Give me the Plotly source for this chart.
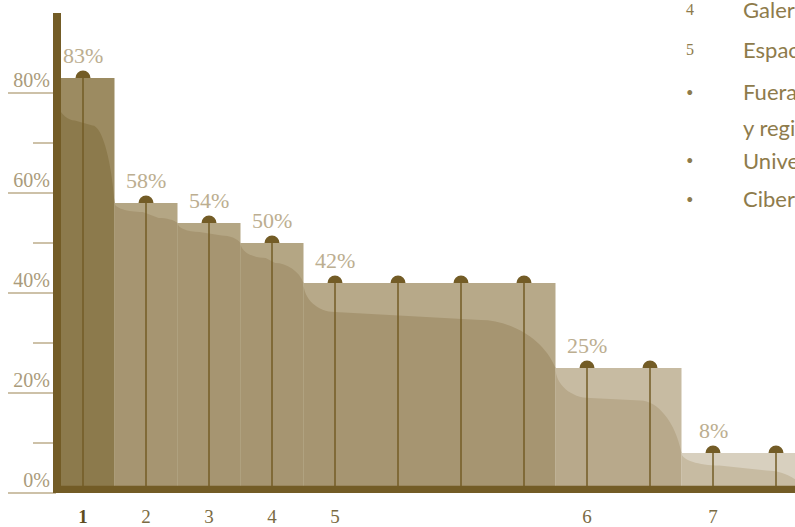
import plotly.graph_objects as go

# ---- data -------------------------------------------------------------
ranks = ["1", "2", "3", "4", "5", "6", "7"]
shares = [83, 58, 54, 50, 42, 25, 8]            # % per rank (top of each block)
items_per_rank = [1, 1, 1, 1, 4, 2, 2]          # number of stems in each block
inner_start = [74.5, 56.2, 52.2, 47.0, 36.2, 19.0, 5.5]   # inner band level, left side
inner_end = [73.5, 55.0, 51.5, 46.0, 34.6, 18.5, 4.5]     # inner band level, right side
y_ticks = [0, 20, 40, 60, 80]
y_tick_text = ["0%", "20%", "40%", "60%", "80%"]
y_minor = [10, 30, 50, 70]

legend_marks = ["4", "5", "•", "", "•", "•"]
legend_lines = ["Galerías", "Espacios alternativos", "Fuera de Santiago", "y regiones",
                "Universidades", "Ciberespacio"]

# ---- styles -----------------------------------------------------------
BROWN = "#735C26"
light_fill = ["#9C8B61", "#B4A684", "#B4A684", "#B4A684", "#B7A989", "#C7BBA2", "#D8D0BF"]
dark_fill = ["#8C7A4C", "#A69571", "#A69571", "#A69571", "#A69571", "#B8A98B", "#C7BBA2"]
foot_w = [0.37, 0.45, 0.35, 0.40, 0.50, 0.55, 0.60]       # width of the inner band's drop-in
shoulder_w = [0.35, 0.30, 0.30, 0.45, 1.19, 0.65, 0.65]   # width of the inner band's drop-out
SERIF = "Liberation Serif"
SANS = "Lato"

W, H = 795, 527
ML, MR, MT, MB = 57, 0, 13, 34
plot_w = W - ML - MR
plot_h = H - MT - MB

fig = go.Figure()
shapes = []

# block extents along the x axis (one unit per stem)
edges = [0.5]
for n in items_per_rank:
    edges.append(edges[-1] + n)

stem_x, stem_y = [], []
first_stem = []
for i, v in enumerate(shares):
    a, b = edges[i], edges[i + 1]
    xs = list(range(int(a + 0.5), int(b + 0.5)))
    first_stem.append(xs[0])
    for x in xs:
        stem_x += [x, x, None]
        stem_y += [v, 0, None]
        # round cap; its lower half is covered by the block drawn next
        shapes.append(dict(type="circle", xref="x", yref="y", xsizemode="pixel",
                           ysizemode="pixel", xanchor=x, yanchor=v,
                           x0=-7.5, x1=7.5, y0=-7.5, y1=7.5,
                           fillcolor=BROWN, line=dict(width=0), layer="below"))

for i, v in enumerate(shares):
    a, b = edges[i], edges[i + 1]
    shapes.append(dict(type="rect", xref="x", yref="y", x0=a, x1=b, y0=0, y1=v,
                       fillcolor=light_fill[i], line=dict(width=0), layer="below"))
    # inner band: drops from the block top, runs along, then falls to the next block
    T, S, E = v, inner_start[i], inner_end[i]
    N = shares[i + 1] if i + 1 < len(shares) else 0
    f, s = foot_w[i], shoulder_w[i]
    k = 0.55
    path = (f"M {a},0 L {a},{T} "
            f"C {a},{T - k * (T - S)} {a + f - k * f},{S} {a + f},{S} "
            f"L {b - s},{E} "
            f"C {b - s + 0.4 * s},{E} {b - 0.15 * s},{E - 0.4 * (E - N)} {b},{N} "
            f"L {b},0 Z")
    shapes.append(dict(type="path", xref="x", yref="y", path=path,
                       fillcolor=dark_fill[i], line=dict(width=0), layer="below"))

# axis bars
shapes.append(dict(type="rect", xref="paper", yref="y", x0=-4 / plot_w, x1=1,
                   y0=0, y1=1.45, fillcolor=BROWN, line=dict(width=0), layer="above"))
shapes.append(dict(type="rect", xref="paper", yref="paper", x0=-4 / plot_w, x1=4 / plot_w,
                   y0=0, y1=1, fillcolor=BROWN, line=dict(width=0), layer="above"))

fig.add_trace(go.Scatter(x=stem_x, y=stem_y, mode="lines",
                         line=dict(color=BROWN, width=1.5), hoverinfo="skip",
                         showlegend=False))

annotations = []
for i, v in enumerate(shares):
    annotations.append(dict(x=first_stem[i], y=v, xref="x", yref="y", text=f"{v}%",
                            showarrow=False, yshift=23, yanchor="middle",
                            font=dict(family=SERIF, size=22, color="#BCAE90")))

# side list (runs off the right edge)
legend_rows_px = [10, 50, 92, 127, 160, 199]
for mark, line, ypx in zip(legend_marks, legend_lines, legend_rows_px):
    yp = (H - MB - ypx) / plot_h
    if mark:
        annotations.append(dict(x=(690 - ML) / plot_w, y=yp, xref="paper", yref="paper",
                                text=mark, showarrow=False, xanchor="center",
                                yanchor="middle",
                                font=dict(family=SERIF if mark != "•" else SANS,
                                          size=16 if mark != "•" else 13,
                                          color="#8E7B4B")))
    annotations.append(dict(x=(741 - ML) / plot_w, y=yp, xref="paper", yref="paper",
                            text=line, showarrow=False, xanchor="left", yanchor="middle",
                            font=dict(family=SANS, size=22, color="#8E7B4B")))

x_tick_vals = first_stem
x_tick_text = ['<span style="color:#5E4C1E"><b>1</b></span>'] + ranks[1:]

fig.update_layout(
    width=W, height=H,
    margin=dict(l=ML, r=MR, t=MT, b=MB, pad=0),
    paper_bgcolor="white", plot_bgcolor="white",
    showlegend=False,
    shapes=shapes,
    annotations=annotations,
    xaxis=dict(range=[1 - 26 / 63, 1 + 712 / 63], showgrid=False, zeroline=False,
               showline=False, ticks="", tickvals=x_tick_vals, ticktext=x_tick_text,
               tickfont=dict(family=SERIF, size=19, color="#7A6A42"),
               ticklabelstandoff=10, fixedrange=True),
    yaxis=dict(range=[0, 96], showgrid=False, zeroline=False, showline=False,
               tickvals=y_ticks, ticktext=y_tick_text, ticks="outside", ticklen=48,
               tickwidth=1.5, tickcolor="#CDC1A8",
               minor=dict(tickvals=y_minor, ticks="outside", ticklen=23, tickwidth=1.5,
                          tickcolor="#CDC1A8"),
               tickfont=dict(family=SERIF, size=20, color="#AA9B7B"),
               ticklabelstandoff=-46, ticklabelshift=-13, fixedrange=True),
)

fig.write_html("out.html")
